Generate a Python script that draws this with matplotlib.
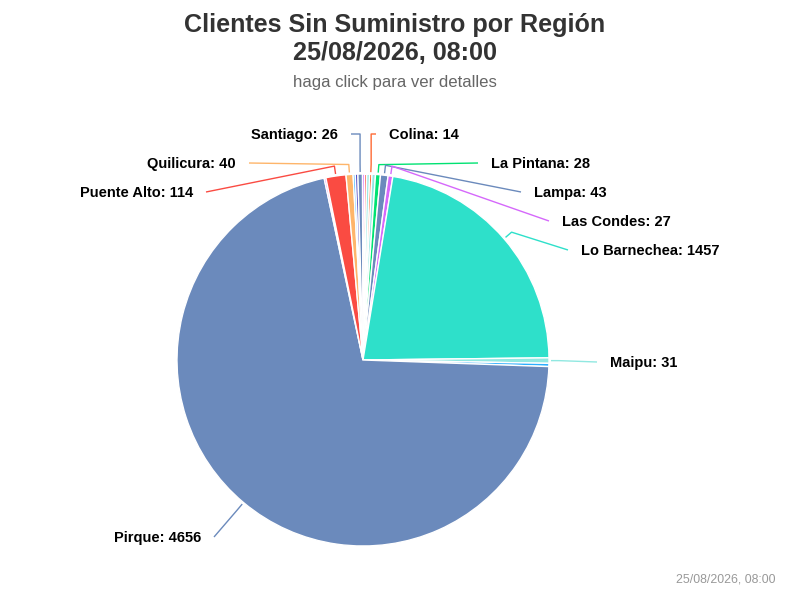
import numpy as np
import matplotlib
matplotlib.use("Agg")
import matplotlib.pyplot as plt

plt.rcParams['font.family'] = ['Liberation Sans', 'DejaVu Sans']

# slices, clockwise from the top; "" = small slices whose labels are hidden
regiones = ["Colina", "", "La Pintana", "Lampa", "Las Condes", "Lo Barnechea",
            "Maipu", "", "Pirque", "", "Puente Alto", "Quilicura",
            "", "", "Santiago", "", "", ""]
clientes = [14, 20, 28, 43, 27, 1457,
            31, 18, 4656, 10, 114, 40,
            12, 15, 26, 12, 12, 15]
colores = ["#fe6a35", "#91e8e1", "#00e272", "#6b8abc", "#d568fb", "#2ee0ca",
           "#91e8e1", "#2caffe", "#6b8abc", "#d568fb", "#fa4b42", "#feb56a",
           "#2caffe", "#544fc5", "#6b8abc", "#d568fb", "#fa4b42", "#91e8e1"]

titulo = ["Clientes Sin Suministro por Región", "25/08/2026, 08:00"]
subtitulo = "haga click para ver detalles"
credito = "25/08/2026, 08:00"

# label placement (pixels from top-left): x of text edge, y of text centre
label_pos = {
    "Colina": (389, 135), "La Pintana": (491, 164), "Lampa": (534, 193),
    "Las Condes": (562, 222), "Lo Barnechea": (581, 251), "Maipu": (610, 363),
    "Pirque": (201, 538), "Puente Alto": (193, 193), "Quilicura": (236, 164),
    "Santiago": (338, 135),
}

W, H = 790, 592
fig = plt.figure(figsize=(W / 100, H / 100), dpi=100)
ax = fig.add_axes([0, 0, 1, 1])

cx, cy, r = 363, H - 360, 186
wedges, _ = ax.pie(clientes, colors=colores, startangle=88, counterclock=False,
                   center=(cx, cy), radius=r,
                   wedgeprops=dict(edgecolor="white", linewidth=1.0))
ax.set_xlim(0, W)
ax.set_ylim(0, H)
ax.set_aspect("equal")
ax.axis("off")

for w, name, val, col in zip(wedges, regiones, clientes, colores):
    if not name:
        continue
    mid = np.deg2rad((w.theta1 + w.theta2) / 2)
    dx, dy = np.cos(mid), np.sin(mid)
    touch = (cx + (r + 2) * dx, cy + (r + 2) * dy)
    brk = (cx + (r + 10) * dx, cy + (r + 10) * dy)
    lx, ly = label_pos[name]
    ly = H - ly
    right = dx > 0
    ax_x = lx - 13 if right else lx + 13
    pts = [(ax_x, ly + 1)]
    if ly + 1 - brk[1] > 10:
        pts.append((brk[0], ly + 1))
    pts += [brk, touch]
    xs, ys = zip(*pts)
    ax.plot(xs, ys, color=col, lw=1, solid_capstyle="butt")
    ax.text(lx, ly, f"{name}: {val}", ha="left" if right else "right",
            va="center", fontsize=10.5, fontweight="bold", color="black")

fig.text(0.5, 1 - 25 / H, titulo[0], ha="center", va="center",
         fontsize=18.1, fontweight="bold", color="#333333")
fig.text(0.5, 1 - 53 / H, titulo[1], ha="center", va="center",
         fontsize=18.1, fontweight="bold", color="#333333")
fig.text(0.5, 1 - 83 / H, subtitulo, ha="center", va="center",
         fontsize=12.1, color="#666666")
fig.text(776 / W, 1 - 580 / H, credito, ha="right", va="center",
         fontsize=8.9, color="#999999")

fig.savefig("out.png", dpi=100)
